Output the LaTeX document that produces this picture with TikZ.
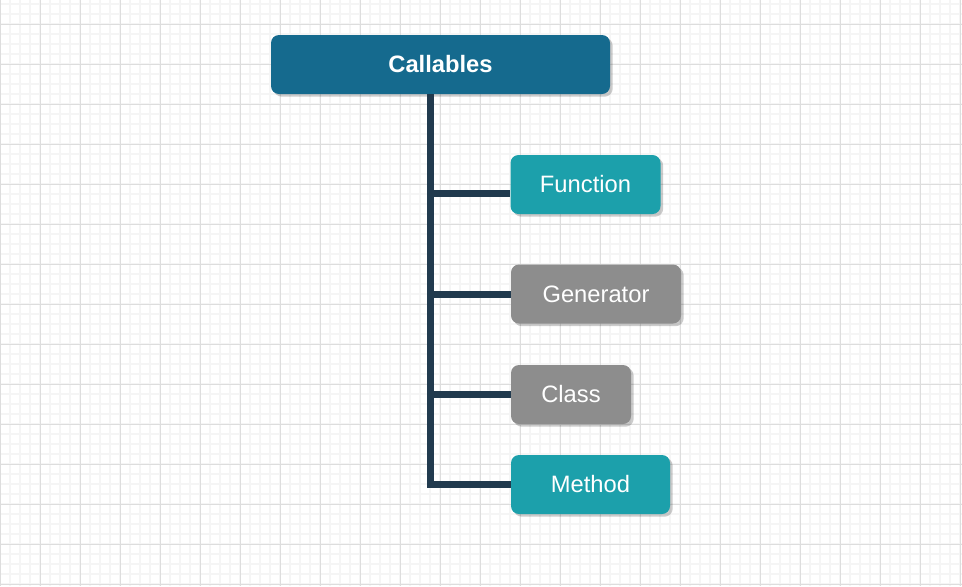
\documentclass[tikz,border=0pt]{standalone}
\usepackage{fontspec}
\setmainfont{Liberation Sans}
\usetikzlibrary{shadows}

\definecolor{rootblue}{HTML}{156A8E}
\definecolor{tealbox}{HTML}{1CA0AB}
\definecolor{greybox}{HTML}{8D8D8D}
\definecolor{stemcol}{HTML}{213A4E}
\definecolor{gridmajor}{HTML}{DDDDDD}
\definecolor{gridminor}{HTML}{F5F5F5}

\tikzset{
  box/.style={rounded corners=6pt, text=white, minimum height=44.25pt,
    font=\fontsize{17.8}{21}\selectfont,
    drop shadow={shadow xshift=2pt, shadow yshift=-2pt, fill=black, opacity=0.2}},
  stem/.style={line width=5.25pt, draw=stemcol}
}

\begin{document}
\begin{tikzpicture}[x=0.75pt, y=-0.75pt]
    \useasboundingbox (0,0) rectangle (962,586);
    \fill[white] (0,0) rectangle (962,586);
    % grid
    \foreach \x in {10,20,...,960} \draw[gridminor, line width=0.9pt] (\x,0) -- (\x,586);
    \foreach \y in {4,14,...,584} \draw[gridminor, line width=0.9pt] (0,\y) -- (962,\y);
    \foreach \x in {0,40,...,960} \draw[gridmajor, line width=0.75pt] (\x,0) -- (\x,586);
    \foreach \y in {24,64,...,584} \draw[gridmajor, line width=0.75pt] (0,\y) -- (962,\y);

    \coordinate (spine) at (430,94);

    \node[box, fill=rootblue, minimum width=254.25pt, font=\fontsize{17.8}{21}\selectfont\bfseries] (root) at (440.5,64.5) {Callables};
    \node[box, fill=tealbox, minimum width=112.5pt] (func) at (585.5,184.5) {Function};
    \node[box, fill=greybox, minimum width=127.5pt] (gen) at (596,294) {Generator};
    \node[box, fill=greybox, minimum width=90pt] (cls) at (571,394.5) {Class};
    \node[box, fill=tealbox, minimum width=119.25pt] (meth) at (590.5,484.5) {Method};
    \coordinate (funcin) at ([yshift=-6.75pt]func.west);

    \draw[stem] (root.south -| spine) |- (meth.west);
    \draw[stem] (spine |- funcin) -- (funcin);
    \draw[stem] (spine |- gen.west) -- (gen.west);
    \draw[stem] (spine |- cls.west) -- (cls.west);
\end{tikzpicture}
\end{document}
